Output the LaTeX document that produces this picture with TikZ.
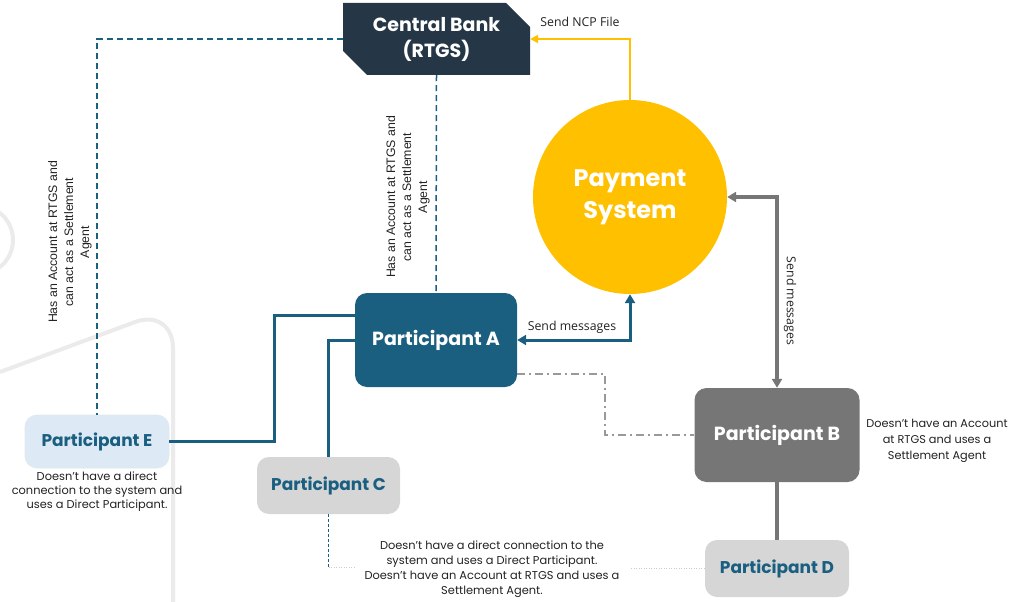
\documentclass[tikz,border=0pt]{standalone}
\usepackage{fontspec}
\setmainfont{Poppins}
\newfontfamily\armfont{Liberation Sans}
\newfontfamily\lblfont{Open Sans}
\usetikzlibrary{shapes.misc,arrows.meta,calc}
\definecolor{navy}{HTML}{253746}
\definecolor{pblue}{HTML}{1A5E80}
\definecolor{pyellow}{HTML}{FFC000}
\definecolor{pgrayB}{HTML}{767676}
\definecolor{pgrayL}{HTML}{D6D6D6}
\definecolor{plblue}{HTML}{DDEAF6}
\definecolor{bgline}{HTML}{EBEBEB}
\definecolor{txt}{HTML}{222222}
\definecolor{dotgray}{HTML}{CCCCCC}
\tikzset{
  part/.style={rounded corners=12pt, align=center, inner sep=0pt, font=\bfseries\fontsize{19}{22}\selectfont},
  smallpart/.style={part, minimum width=144pt, minimum height=57pt, font=\bfseries\fontsize{17}{20}\selectfont},
  cbank/.style={chamfered rectangle, chamfered rectangle corners={north east,south west},
    chamfered rectangle xsep=12pt, chamfered rectangle ysep=12pt, fill=navy, text=white,
    minimum width=187pt, minimum height=72pt, inner sep=0pt, align=center,
    font=\bfseries\fontsize{19}{26}\selectfont},
  desc/.style={align=center, text=txt, inner sep=0pt, font=\fontsize{11.4}{15}\selectfont},
  armtext/.style={align=center, text=txt, inner sep=0pt, rotate=90, font=\armfont\fontsize{12.3}{16}\selectfont},
  lbl/.style={text=txt, inner sep=0pt, font=\lblfont\fontsize{12.3}{14}\selectfont},
  blueline/.style={draw=pblue, line width=3pt},
  bluedash/.style={draw=pblue, line width=1.5pt, dash pattern=on 6pt off 4pt},
  thindash/.style={draw=pblue, line width=0.8pt, dash pattern=on 3pt off 2pt},
  dashdotline/.style={draw=gray!80, line width=1.5pt, dash pattern=on 8pt off 4pt on 2pt off 4pt},
  lightdot/.style={draw=dotgray, line width=0.8pt, dash pattern=on 1pt off 1.5pt}
}
\begin{document}
\begin{tikzpicture}[x=1pt,y=-1pt]
\useasboundingbox (0,0) rectangle (1009,602);
\clip (0,0) rectangle (1009,602);
% background decoration
\draw[bgline, line width=4pt] (-21.5,240) circle (34.5);
\draw[bgline, line width=4pt, rounded corners=40pt] (0,372) -- (173,308) -- (173,610);

% nodes
\node[cbank] (cb) at (436.5,39) {Central Bank\\(RTGS)};
\node[circle, fill=pyellow, minimum size=194pt, inner sep=0pt, text=white, align=center,
  font=\bfseries\fontsize{24}{32}\selectfont] (ps) at (630,197) {Payment\\System};
\node[part, fill=pblue, text=white, minimum width=162pt, minimum height=94pt] (A) at (436,340) {Participant A};
\node[smallpart, fill=plblue, draw=pblue!15, line width=0.6pt, text=pblue, minimum height=53pt] (E) at (97,441.5) {Participant E};
\node[smallpart, fill=pgrayL, text=pblue, minimum width=143pt] (C) at (328.5,485.5) {Participant C};
\node[part, fill=pgrayB, text=white, minimum width=165pt, minimum height=94pt] (B) at (777,435) {Participant B};
\node[smallpart, fill=pgrayL, text=pblue] (D) at (777,568.5) {Participant D};

% connectors
\draw[draw=pyellow, line width=2.5pt, -{Triangle[length=8pt,width=8pt]}] (ps.north) |- (cb.east);
\draw[blueline, {Triangle[length=9pt,width=10pt]}-{Triangle[length=9pt,width=10pt]}] (A.east) -| (ps.south);
\draw[draw=pgrayB, line width=3.5pt, {Triangle[length=9pt,width=10pt]}-{Triangle[length=9pt,width=10pt]}] (ps.east) -| (B.north);
\draw[bluedash] (cb.south) -- (A.north);
\draw[bluedash] (cb.west) -| (E.north);
\draw[blueline] (E.east) -- ++(105,0) |- ([yshift=25pt]A.west);
\draw[blueline] (C.north) |- (A.west);
\draw[dashdotline] ([yshift=-34pt]A.east) -- ++(88,0) |- (B.west);
\draw[draw=pgrayB, line width=4pt] (B.south) -- (D.north);
\draw[thindash] (C.south) -- ++(0,53) coordinate (cend);
\draw[lightdot] (cend) -- ++(27,0);
\draw[lightdot] (D.west) -- ++(-75,0);

% labels
\node[lbl] (lncp) at (580,22) {Send NCP File};
\node[lbl] (lsm1) at (572,327) {Send messages};
\node[lbl, rotate=-90] (lsm2) at (790,301) {Send messages};
\node[armtext] (tcb) at (408,197) {Has an Account at RTGS and\\can act as a Settlement\\Agent};
\node[armtext] (tcbE) at (70,242) {Has an Account at RTGS and\\can act as a Settlement\\Agent};
\node[desc, font=\fontsize{11.4}{14}\selectfont] (tE) at (97,492) {Doesn’t have a direct\\connection to the system and\\uses a Direct Participant.};
\node[desc] (tC) at (492,569) {Doesn’t have a direct connection to the\\system and uses a Direct Participant.\\Doesn’t have an Account at RTGS and uses a\\Settlement Agent.};
\node[desc, font=\fontsize{11.3}{16}\selectfont] (tB) at (937,441) {Doesn’t have an Account\\at RTGS and uses a\\Settlement Agent};
\end{tikzpicture}
\end{document}
